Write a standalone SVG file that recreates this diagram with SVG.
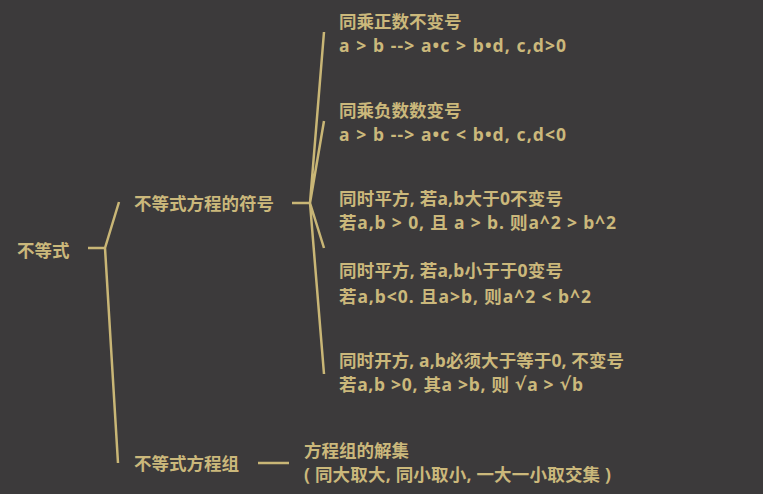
<svg xmlns="http://www.w3.org/2000/svg" width="763" height="494" viewBox="0 0 763 494">
<defs>
<linearGradient id="fade" x1="0" y1="0" x2="0" y2="1">
<stop offset="0" stop-color="#c9b676" stop-opacity="0"/>
<stop offset="0.25" stop-color="#c9b676" stop-opacity="0.8"/>
<stop offset="1" stop-color="#c9b676"/>
</linearGradient>
<style>
text{font-family:"Noto Sans","Noto Sans CJK SC",sans-serif;font-weight:bold;font-size:17.5px;fill:#cbb87b;dominant-baseline:central}
.m{font-family:"DejaVu Sans",sans-serif}
.c{fill:none;stroke:#c9b676;stroke-width:2.5;stroke-linecap:butt}
</style>
</defs>
<rect width="763" height="494" fill="#3c3a3b"/>
<g id="connectors">
<path d="M1.5 90 L1.5 248" stroke="url(#fade)" stroke-width="2.5" fill="none"/>
<path class="c" d="M88 248 H105 M105 248 L119 202 M105 248 L118 463"/>
<path class="c" d="M292 203 H310 M310 203 L324 32 M310 203 L324 121 M310 203 L324 248 M310 203 L324 374"/>
<path class="c" d="M258 463 H289"/>
</g>
<g id="root"><text x="17" y="250">不等式</text></g>
<g id="sign"><text x="134" y="203">不等式方程的符号</text></g>
<g id="group"><text x="134" y="463">不等式方程组</text></g>
<g id="n1"><text x="339" y="21">同乘正数不变号</text><text x="339" y="45" textLength="227" lengthAdjust="spacing">a &gt; b --&gt; a•c &gt; b•d, c,d&gt;0</text></g>
<g id="n2"><text x="339" y="110">同乘负数数变号</text><text x="339" y="134" textLength="227" lengthAdjust="spacing">a &gt; b --&gt; a•c &lt; b•d, c,d&lt;0</text></g>
<g id="n3"><text x="339" y="198" textLength="224" lengthAdjust="spacing">同时平方, 若a,b大于0不变号</text><text x="339" y="222" textLength="277" lengthAdjust="spacing">若a,b &gt; 0, 且 a &gt; b. 则a^2 &gt; b^2</text></g>
<g id="n4"><text x="339" y="270" textLength="224" lengthAdjust="spacing">同时平方, 若a,b小于于0变号</text><text x="339" y="296" textLength="252" lengthAdjust="spacing">若a,b&lt;0. 且a&gt;b, 则a^2 &lt; b^2</text></g>
<g id="n5"><text x="339" y="360" textLength="285" lengthAdjust="spacing">同时开方, a,b必须大于等于0, 不变号</text><text x="339" y="384" textLength="244" lengthAdjust="spacing">若a,b &gt;0, 其a &gt;b, 则 <tspan class="m">√</tspan>a &gt; <tspan class="m">√</tspan>b</text></g>
<g id="n6"><text x="304" y="450">方程组的解集</text><text x="304" y="474" textLength="307" lengthAdjust="spacing">( 同大取大, 同小取小, 一大一小取交集 )</text></g>
</svg>
